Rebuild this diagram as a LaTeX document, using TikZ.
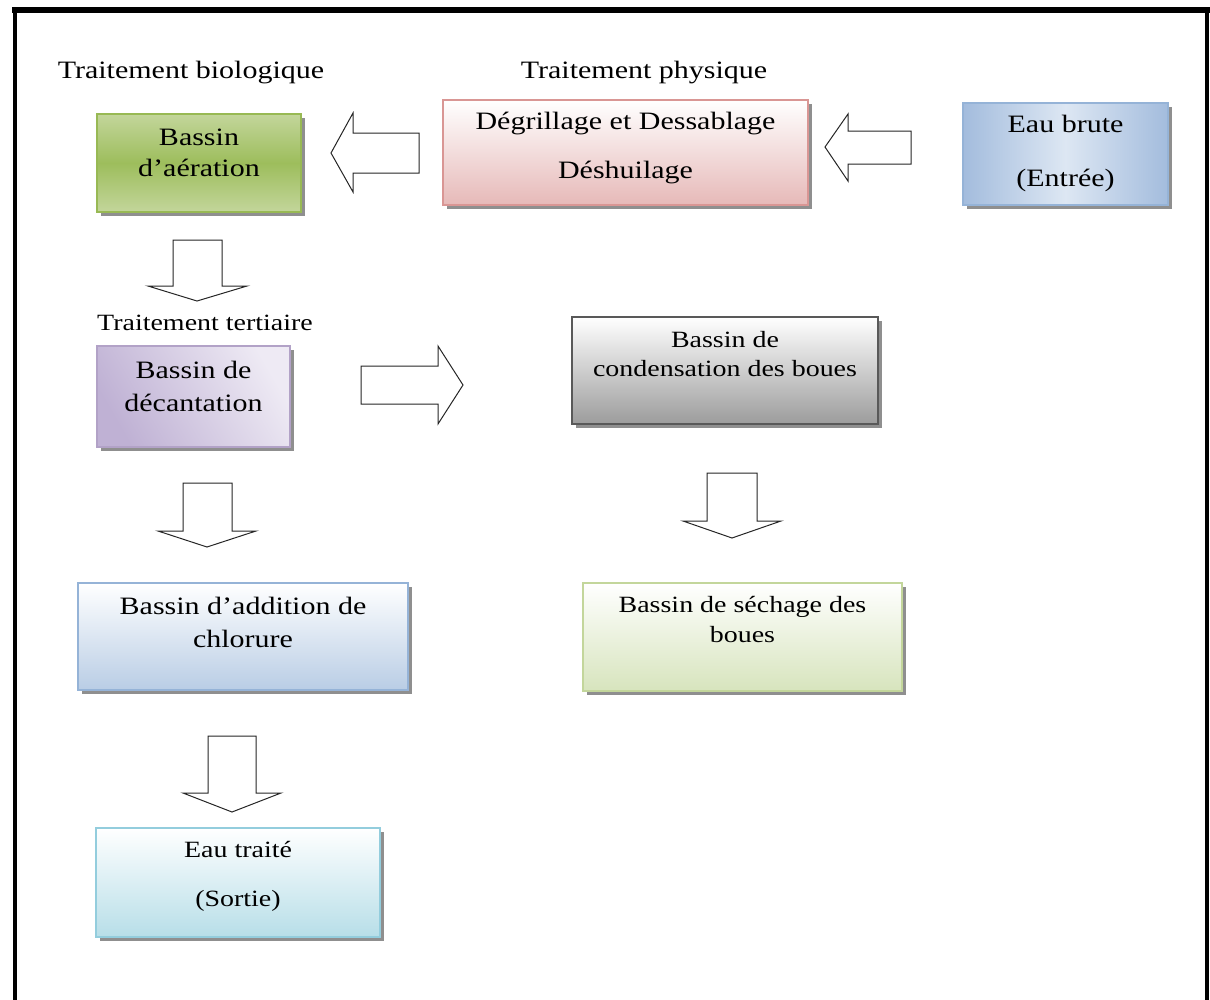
\documentclass[tikz,border=0pt]{standalone}
\usepackage{fontspec}
\setmainfont{Liberation Serif}[FakeStretch=1.2]
\usetikzlibrary{shadows}

\definecolor{grnB}{HTML}{98B954}
\definecolor{grnL}{HTML}{C3D69B}
\definecolor{grnM}{HTML}{9DBD5C}
\definecolor{pnkB}{HTML}{D99694}
\definecolor{pnkF}{HTML}{E6B9B8}
\definecolor{bluB}{HTML}{95B3D7}
\definecolor{bluD}{HTML}{A3BCDD}
\definecolor{bluL}{HTML}{DDE7F3}
\definecolor{bluF}{HTML}{B9CDE5}
\definecolor{purB}{HTML}{B2A2C7}
\definecolor{purD}{HTML}{BFB1D4}
\definecolor{purL}{HTML}{EEEAF4}
\definecolor{gryB}{HTML}{595959}
\definecolor{gryF}{HTML}{9C9C9C}
\definecolor{olvB}{HTML}{C3D69B}
\definecolor{olvF}{HTML}{D7E4BD}
\definecolor{aquB}{HTML}{93CDDD}
\definecolor{aquF}{HTML}{B7DEE8}

\newcommand{\fsA}{\fontsize{25}{30}\selectfont}
\newcommand{\fsB}{\fontsize{23.3}{28}\selectfont}

\tikzset{
  box/.style={draw, line width=2.5pt, inner sep=0pt,
    drop shadow={shadow xshift=3.5pt, shadow yshift=-3.5pt, fill=black!55, opacity=.8}},
  txt/.style={align=center, inner sep=0pt, font=\fsA},
  txtb/.style={align=center, inner sep=0pt, font=\fsB},
  blockarrow/.style={draw=black!85, line width=1pt, fill=white, line join=miter},
}

\begin{document}
\begin{tikzpicture}[x=1pt, y=-1pt]
\useasboundingbox (0,0) rectangle (1210,999);

% outer frame, open at the bottom
\draw[line width=4pt] (15,1002) -- (15,10);
\draw[line width=4pt] (1207,1002) -- (1207,10);
\draw[line width=6pt] (12,10) -- (1210,10);

% section labels
\node[txt] (lbio)  at (191,73)  {Traitement biologique};
\node[txt] (lphys) at (644,73)  {Traitement physique};
\node[txtb] (lter) at (205,323) {Traitement tertiaire};

% basins (middle colour always given last, after the outer colours)
\node[box, draw=grnB, top color=grnL, bottom color=grnL, middle color=grnM,
      minimum width=204pt, minimum height=98pt] (aer) at (199,163) {};
\node[box, draw=pnkB, top color=white, bottom color=pnkF,
      minimum width=365pt, minimum height=105pt] (phys) at (625.5,152.5) {};
\node[box, draw=bluB, left color=bluD, right color=bluD, middle color=bluL,
      minimum width=205pt, minimum height=102pt] (brute) at (1065.5,154) {};
\node[box, draw=purB, left color=purD, right color=purL, shading angle=120,
      minimum width=193pt, minimum height=101pt] (dec) at (193.5,396.5) {};
\node[box, draw=gryB, top color=white, bottom color=gryF,
      minimum width=306pt, minimum height=107pt] (cond) at (725,370.5) {};
\node[box, draw=bluB, top color=white, bottom color=bluF,
      minimum width=330pt, minimum height=107pt] (chl) at (243,636.5) {};
\node[box, draw=olvB, top color=white, bottom color=olvF,
      minimum width=319pt, minimum height=108pt] (sech) at (742.5,637) {};
\node[box, draw=aquB, top color=white, bottom color=aquF,
      minimum width=284pt, minimum height=109pt] (out) at (238,882.5) {};

% basin texts
\node[txt] (aer-t)   at (199,153)    {Bassin\\[1pt]d’aération};
\node[txt] (phys-t)  at (625.5,148)  {Dégrillage et Dessablage\\[19pt]Déshuilage};
\node[txt] (brute-t) at (1065.5,153) {Eau brute\\[24pt](Entrée)};
\node[txt] (dec-t)   at (193.5,386)  {Bassin de\\[3pt]décantation};
\node[txtb] (cond-t) at (725,354)    {Bassin de\\[1pt]condensation des boues};
\node[txt] (chl-t)   at (243,622)    {Bassin d’addition de\\[3pt]chlorure};
\node[txtb] (sech-t) at (742.5,619.5){Bassin de séchage des\\[2pt]boues};
\node[txtb] (out-t)  at (238,876)    {Eau traité\\[21pt](Sortie)};

% block arrows between the stages
\draw[blockarrow] (331,153) -- (353,113) -- (353,133) -- (419,133) -- (419,173)
  -- (353,173) -- (353,192) -- cycle;
\draw[blockarrow] (825,147) -- (848,114) -- (848,131) -- (911,131) -- (911,164)
  -- (848,164) -- (848,181) -- cycle;
\draw[blockarrow] (173,240) -- (222,240) -- (222,286) -- (247,286) -- (197,301)
  -- (148,286) -- (173,286) -- cycle;
\draw[blockarrow] (361,366) -- (438,366) -- (438,346) -- (463,385) -- (438,424)
  -- (438,404) -- (361,404) -- cycle;
\draw[blockarrow] (707,473) -- (757,473) -- (757,521) -- (781,521) -- (732,538)
  -- (683,521) -- (707,521) -- cycle;
\draw[blockarrow] (183,483) -- (232,483) -- (232,531) -- (256,531) -- (207,547)
  -- (158,531) -- (183,531) -- cycle;
\draw[blockarrow] (208,736) -- (256,736) -- (256,793) -- (281,793) -- (232,812)
  -- (183,793) -- (208,793) -- cycle;
\end{tikzpicture}
\end{document}
